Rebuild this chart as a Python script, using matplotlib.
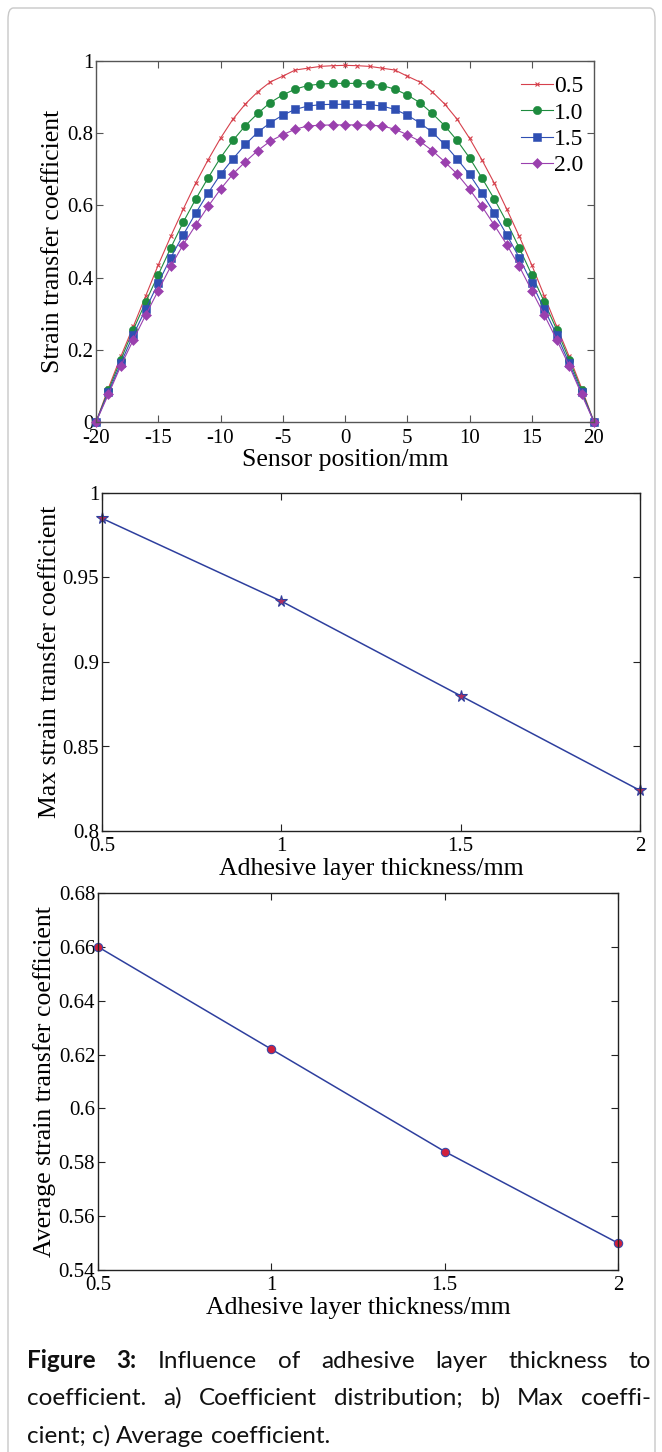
import matplotlib
matplotlib.use("Agg")
import matplotlib.pyplot as plt
from matplotlib.patches import FancyBboxPatch

# ---------------- data ----------------
positions = list(range(-20, 21))
thick_labels = ["0.5", "1.0", "1.5", "2.0"]

coef_05 = [0.000, 0.094, 0.182, 0.265, 0.350, 0.435, 0.514, 0.589, 0.661, 0.726,
           0.786, 0.839, 0.881, 0.915, 0.942, 0.958, 0.975, 0.980, 0.985, 0.987,
           0.988,
           0.987, 0.985, 0.980, 0.975, 0.958, 0.942, 0.915, 0.881, 0.839, 0.786,
           0.726, 0.661, 0.589, 0.514, 0.435, 0.350, 0.265, 0.182, 0.094, 0.000]
coef_10 = [0.000, 0.088, 0.173, 0.256, 0.333, 0.408, 0.482, 0.553, 0.617, 0.676,
           0.732, 0.780, 0.821, 0.855, 0.885, 0.906, 0.922, 0.932, 0.936, 0.938,
           0.938,
           0.938, 0.936, 0.932, 0.922, 0.906, 0.885, 0.855, 0.821, 0.780, 0.732,
           0.676, 0.617, 0.553, 0.482, 0.408, 0.333, 0.256, 0.173, 0.088, 0.000]
coef_15 = [0.000, 0.082, 0.163, 0.242, 0.313, 0.385, 0.455, 0.518, 0.578, 0.634,
           0.686, 0.729, 0.769, 0.803, 0.829, 0.850, 0.866, 0.875, 0.879, 0.880,
           0.880,
           0.880, 0.879, 0.875, 0.866, 0.850, 0.829, 0.803, 0.769, 0.729, 0.686,
           0.634, 0.578, 0.518, 0.455, 0.385, 0.313, 0.242, 0.163, 0.082, 0.000]
coef_20 = [0.000, 0.077, 0.156, 0.228, 0.297, 0.364, 0.431, 0.491, 0.545, 0.597,
           0.645, 0.687, 0.721, 0.752, 0.778, 0.796, 0.811, 0.820, 0.822, 0.823,
           0.823,
           0.823, 0.822, 0.820, 0.811, 0.796, 0.778, 0.752, 0.721, 0.687, 0.645,
           0.597, 0.545, 0.491, 0.431, 0.364, 0.297, 0.228, 0.156, 0.077, 0.000]

thickness = [0.5, 1.0, 1.5, 2.0]
max_coef = [0.985, 0.936, 0.880, 0.824]
avg_coef = [0.660, 0.622, 0.584, 0.550]

top_xticks = [-20, -15, -10, -5, 0, 5, 10, 15, 20]
top_yticks = [0, 0.2, 0.4, 0.6, 0.8, 1.0]
top_yticklabels = ["0", "0.2", "0.4", "0.6", "0.8", "1"]
mid_yticks = [0.8, 0.85, 0.9, 0.95, 1.0]
mid_yticklabels = ["0.8", "0.85", "0.9", "0.95", "1"]
bot_yticks = [0.54, 0.56, 0.58, 0.6, 0.62, 0.64, 0.66, 0.68]
bot_yticklabels = ["0.54", "0.56", "0.58", "0.6", "0.62", "0.64", "0.66", "0.68"]
thick_ticks = [0.5, 1, 1.5, 2]
thick_ticklabels = ["0.5", "1", "1.5", "2"]

caption_lines = [
    [("Figure", "bold"), ("3:", "bold"), ("Influence", "normal"), ("of", "normal"),
     ("adhesive", "normal"), ("layer", "normal"), ("thickness", "normal"), ("to", "normal")],
    [("coefficient.", "normal"), ("a)", "normal"), ("Coefficient", "normal"),
     ("distribution;", "normal"), ("b)", "normal"), ("Max", "normal"), ("coeffi-", "normal")],
    [("cient;", "normal"), ("c)", "normal"), ("Average", "normal"), ("coefficient.", "normal")],
]

# ---------------- figure ----------------
W, H = 662, 1452
fig = plt.figure(figsize=(W / 100, H / 100), dpi=100)
fig.patch.set_facecolor("white")

card = FancyBboxPatch((8 / W, -0.05), (655 - 8) / W, (1452 - 8) / H + 0.05,
                      boxstyle="round,pad=0,rounding_size=0.008",
                      transform=fig.transFigure, facecolor="none",
                      edgecolor="#c8c8c8", linewidth=1.0, zorder=-1)
fig.patches.append(card)

serif = ["Liberation Serif", "DejaVu Serif"]
TICK_FS = 15
LAB_FS = 18.5


def ax_rect(l, r, t, b):
    return [l / W, (H - b) / H, (r - l) / W, (b - t) / H]


def style_axes(ax, spine_color, xpad):
    for s in ax.spines.values():
        s.set_color(spine_color)
        s.set_linewidth(1.0)
    ax.tick_params(direction="in", top=True, right=True, length=5, width=0.8,
                   color=spine_color, labelsize=TICK_FS, pad=2)
    ax.tick_params(axis="x", pad=xpad)
    for lab in ax.get_xticklabels() + ax.get_yticklabels():
        lab.set_fontfamily(serif)


# ---- a) distribution ----
ax1 = fig.add_axes(ax_rect(96, 594, 61, 422))
series = [coef_05, coef_10, coef_15, coef_20]
colors = ["#d6404c", "#1e8b3e", "#2f4fb3", "#9a40ae"]
markers = ["x", "o", "s", "D"]
msizes = [3.5, 6.0, 5.2, 4.6]
for ys, lab, c, m, ms in zip(series, thick_labels, colors, markers, msizes):
    ax1.plot(positions, ys, color=c, marker=m, markersize=ms, linewidth=0.8,
             markeredgewidth=0.8 if m == "x" else 0.4, label=lab, clip_on=False)
ax1.set_xlim(-20, 20)
ax1.set_ylim(0, 1)
ax1.set_xticks(top_xticks)
ax1.set_xticklabels([str(v) for v in top_xticks])
ax1.set_yticks(top_yticks)
ax1.set_yticklabels(top_yticklabels)
ax1.set_xlabel("Sensor position/mm", fontsize=LAB_FS, family=serif, labelpad=1)
ax1.set_ylabel("Strain transfer coefficient", fontsize=LAB_FS, family=serif, labelpad=2)
style_axes(ax1, "#555555", 5)
leg = ax1.legend(loc="upper right", frameon=False, prop={"family": serif, "size": 17},
                 handlelength=1.35, handletextpad=0.05, labelspacing=0.2,
                 borderaxespad=0.0, bbox_to_anchor=(0.997, 0.985))

# ---- b) max ----
ax2 = fig.add_axes(ax_rect(102, 640, 493, 831))
ax2.plot(thickness, max_coef, color="#2e3f9e", linewidth=1.1, marker="*",
         markersize=8.5, markerfacecolor="#b03060", markeredgecolor="#2e3f9e",
         markeredgewidth=0.8, clip_on=False)
ax2.set_xlim(0.5, 2)
ax2.set_ylim(0.8, 1.0)
ax2.set_xticks(thick_ticks)
ax2.set_xticklabels(thick_ticklabels)
ax2.set_yticks(mid_yticks)
ax2.set_yticklabels(mid_yticklabels)
ax2.set_xlabel("Adhesive layer thickness/mm", fontsize=LAB_FS, family=serif, labelpad=2)
ax2.set_ylabel("Max strain transfer coefficient", fontsize=LAB_FS, family=serif, labelpad=1)
style_axes(ax2, "#222222", 4)

# ---- c) average ----
ax3 = fig.add_axes(ax_rect(98, 618, 893, 1270))
ax3.plot(thickness, avg_coef, color="#2e3f9e", linewidth=1.1, marker="o",
         markersize=6, markerfacecolor="#d0203c", markeredgecolor="#3a4aa8",
         markeredgewidth=0.8, clip_on=False)
ax3.set_xlim(0.5, 2)
ax3.set_ylim(0.54, 0.68)
ax3.set_xticks(thick_ticks)
ax3.set_xticklabels(thick_ticklabels)
ax3.set_yticks(bot_yticks)
ax3.set_yticklabels(bot_yticklabels)
ax3.set_xlabel("Adhesive layer thickness/mm", fontsize=LAB_FS, family=serif, labelpad=2)
ax3.set_ylabel("Average strain transfer coefficient", fontsize=LAB_FS, family=serif, labelpad=2)
style_axes(ax3, "#222222", 4)

# ---- caption (justified) ----
fig.canvas.draw()
renderer = fig.canvas.get_renderer()
CAP_FS = 17.5
cap_family = ["Lato", "DejaVu Sans"]
x_left, x_right = 27, 651
baselines = [1368, 1405, 1443]


def word_w(s, weight):
    t = fig.text(0, 0, s, fontsize=CAP_FS, family=cap_family, weight=weight)
    w = t.get_window_extent(renderer).width
    t.remove()
    return w


space_w = word_w("a a", "normal") - 2 * word_w("a", "normal")
for i, (line, yb) in enumerate(zip(caption_lines, baselines)):
    widths = [word_w(w, wt) for w, wt in line]
    if i < len(caption_lines) - 1:
        gap = (x_right - x_left - sum(widths)) / (len(line) - 1)
    else:
        gap = space_w
    x = x_left
    for (w, wt), ww in zip(line, widths):
        fig.text(x / W, (H - yb) / H, w, fontsize=CAP_FS, family=cap_family,
                 weight=wt, ha="left", va="baseline", color="#111111")
        x += ww + gap

fig.savefig("out.png", dpi=100, facecolor="white")
